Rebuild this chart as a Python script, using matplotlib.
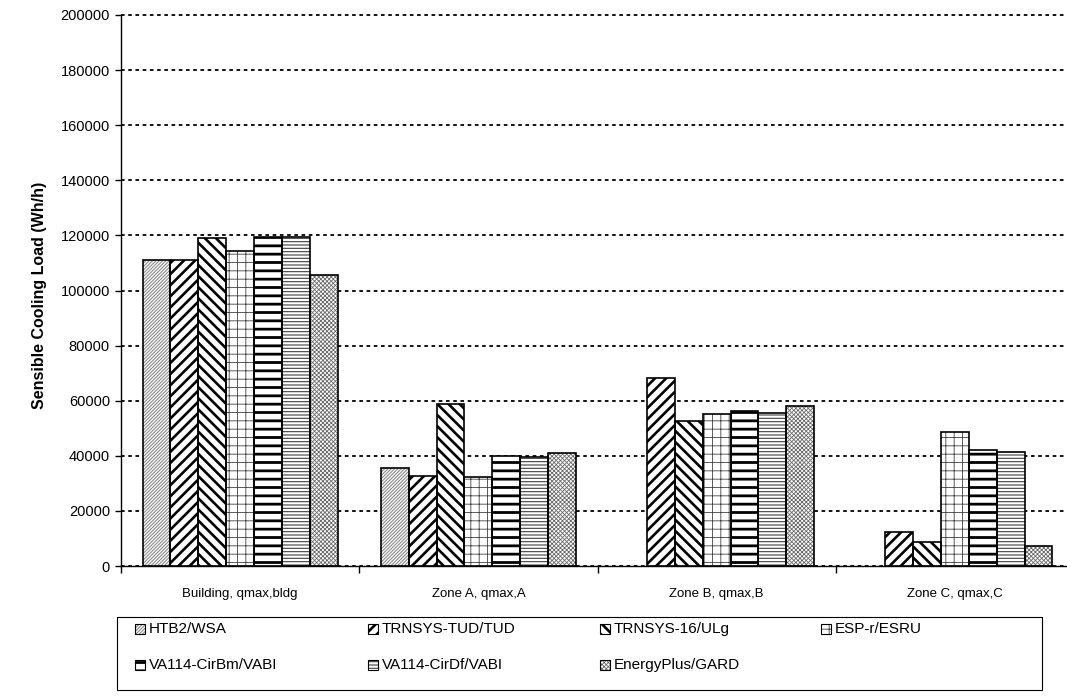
import numpy as np
import matplotlib.pyplot as plt
from matplotlib.patches import Rectangle

plt.rcParams['font.family'] = ['Liberation Sans', 'DejaVu Sans']

groups = ['Building, qmax,bldg', 'Zone A, qmax,A', 'Zone B, qmax,B', 'Zone C, qmax,C']
programs = ['HTB2/WSA', 'TRNSYS-TUD/TUD', 'TRNSYS-16/ULg', 'ESP-r/ESRU',
            'VA114-CirBm/VABI', 'VA114-CirDf/VABI', 'EnergyPlus/GARD']

# Wh/h, HTB2 has no zone B / zone C result
htb2 = [111000, 35700, np.nan, np.nan]
tud = [111000, 32800, 68100, 12200]
ulg = [119000, 58700, 52600, 8600]
espr = [114300, 32400, 55100, 48500]
cirbm = [119400, 39800, 56400, 42100]
cirdf = [119400, 39500, 55500, 41300]
eplus = [105800, 41100, 58100, 7300]
series = [htb2, tud, ulg, espr, cirbm, cirdf, eplus]

yticks = np.arange(0, 200001, 20000)

# hatch, hatch colour, hatch linewidth
styles = [('//////////', '#8a8a8a', 0.8),
          ('///', 'black', 1.9),
          ('\\\\\\', 'black', 1.9),
          ('++', '#404040', 0.6),
          ('--', 'black', 2.0),
          ('-----', '#404040', 0.8),
          ('xxxxxxxx', '#6a6a6a', 0.6)]


def hatched(patch, st):
    h, c, lw = st
    patch.set_hatch(h)
    patch.set_edgecolor(c)
    patch.set_facecolor('white')
    patch.set_linewidth(0)
    if hasattr(patch, 'set_hatch_linewidth'):
        patch.set_hatch_linewidth(lw)


fig = plt.figure(figsize=(10.67, 6.96), dpi=100)
ax = fig.add_axes([121/1067, 130/696, 953/1067, 551/696])

x = np.arange(len(groups))
w = 0.117
for j, vals in enumerate(series):
    pos = x + (j - 3) * w
    bars = ax.bar(pos, vals, w, zorder=2)
    for b in bars:
        hatched(b, styles[j])
    ax.bar(pos, vals, w, fill=False, edgecolor='black', linewidth=1.2, zorder=3)

ax.set_xlim(-0.5, 3.5)
ax.set_ylim(0, 200000)
ax.set_yticks(yticks)
ax.set_yticklabels([str(v) for v in yticks])
ax.set_xticks(x)
ax.set_xticklabels(groups)
ax.set_xticks(np.arange(-0.5, 4, 1), minor=True)
ax.tick_params(axis='x', which='major', length=0, labelsize=9.5, pad=16)
ax.tick_params(axis='x', which='minor', length=5, width=1, direction='out')
ax.tick_params(axis='y', length=4, width=1, labelsize=10.5, pad=4)
ax.yaxis.grid(True, color='black', linestyle=(0, (2, 2)), linewidth=1.3, zorder=0)
ax.set_axisbelow(True)
for gl in ax.get_ygridlines():
    gl.set_clip_on(False)
for s in ['top', 'right']:
    ax.spines[s].set_visible(False)
ax.spines['left'].set_linewidth(1)
ax.spines['bottom'].set_linewidth(1)

fig.text(0.037, 0.576, 'Sensible Cooling Load (Wh/h)', rotation=90,
         ha='center', va='center', fontsize=11.5, fontweight='bold')

# legend box drawn by hand, Excel style
W, H = 1067, 696
fig.patches.append(Rectangle((117/W, (H - 690)/H), (1042-117)/W, (690-617)/H,
                             transform=fig.transFigure, fill=False,
                             edgecolor='black', linewidth=0.8))
col_x = [135, 368, 600, 821]
row_y = [629, 665]
for j, name in enumerate(programs):
    cx = col_x[j % 4]
    cy = row_y[j // 4]
    sq = 10
    r = Rectangle((cx/W, (H - cy - sq/2)/H), sq/W, sq/H, transform=fig.transFigure)
    hatched(r, styles[j])
    fig.patches.append(r)
    fig.patches.append(Rectangle((cx/W, (H - cy - sq/2)/H), sq/W, sq/H,
                                 transform=fig.transFigure, fill=False,
                                 edgecolor='black', linewidth=0.8))
    fig.text((cx + 14)/W, (H - cy)/H, name, ha='left', va='center', fontsize=11)

fig.savefig('out.png', dpi=100)
